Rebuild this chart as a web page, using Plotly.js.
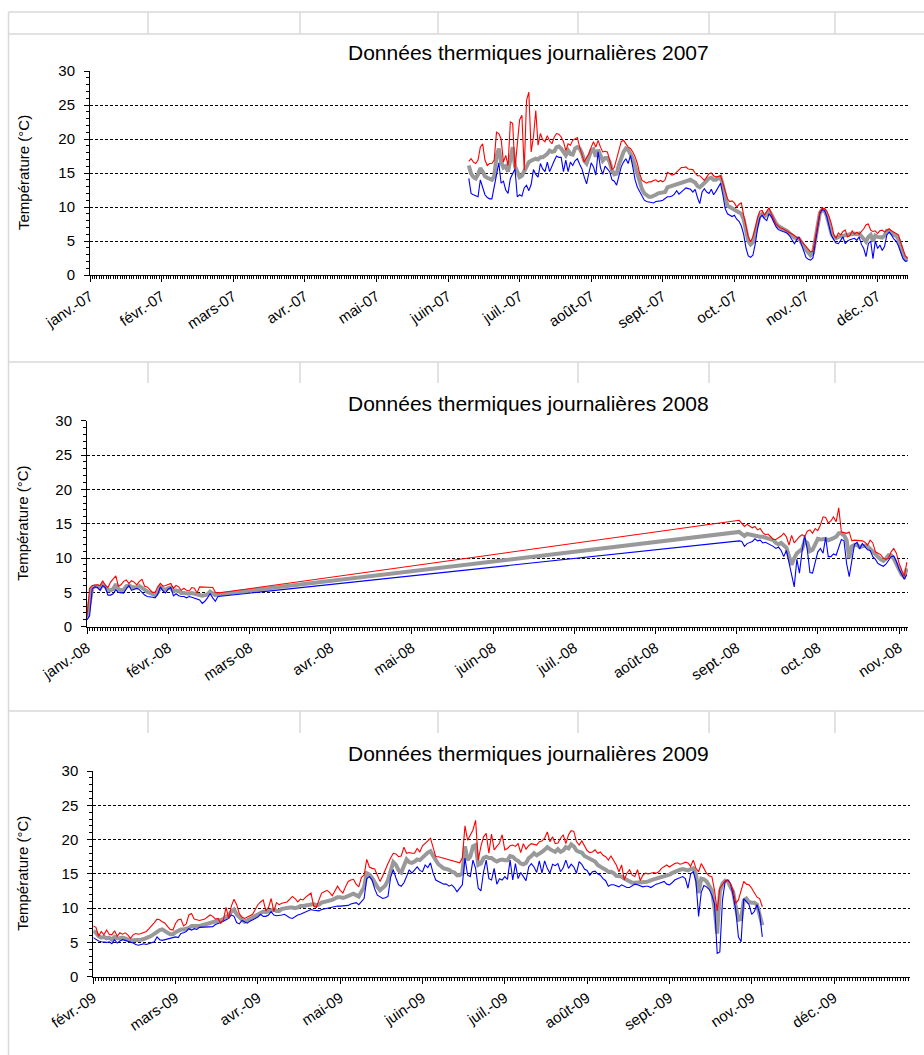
<!DOCTYPE html>
<html>
<head>
<meta charset="utf-8">
<script src="https://cdn.plot.ly/plotly-3.0.1.min.js"></script>
<style>
  html, body { margin: 0; padding: 0; background: #ffffff; }
  #chart { width: 924px; height: 1055px; }
</style>
</head>
<body>
<div id="chart"></div>
<script>
// ---------- DATA ----------
const months2007 = ['janv.-07','févr.-07','mars-07','avr.-07','mai-07','juin-07','juil.-07','août-07','sept.-07','oct.-07','nov.-07','déc.-07'];
const months2008 = ['janv.-08','févr.-08','mars-08','avr.-08','mai-08','juin-08','juil.-08','août-08','sept.-08','oct.-08','nov.-08'];
const months2009 = ['févr.-09','mars-09','avr.-09','mai-09','juin-09','juil.-09','août-09','sept.-09','nov.-09','déc.-09'];
const daysPerLabel = 31;

// 2007 : daily values, first value at day index 164 of the axis
const start2007 = 164;
const max2007 = [16.7,17.1,16.6,16.4,16.9,18.8,19.3,16.9,16.1,16.4,
16.4,16.9,21.0,20.8,20.0,16.6,17.6,16.1,22.5,22.3,
15.6,18.8,22.8,23.5,15.4,25.7,26.9,18.1,20.3,24.2,
19.1,20.8,19.9,19.6,20.5,19.7,19.3,20.3,20.8,20.7,
20.3,19.6,18.3,19.3,19.1,19.8,20.0,20.2,18.8,17.6,
16.6,17.3,17.8,18.8,19.6,18.8,19.8,18.8,18.1,18.2,
18.1,16.9,15.5,15.8,17.1,18.6,19.6,19.8,19.3,18.8,
18.6,18.1,17.4,16.4,14.9,13.9,13.7,13.5,13.7,13.7,
13.9,14.0,13.7,13.9,13.7,14.0,15.1,14.9,14.7,14.8,
15.1,15.4,15.8,15.8,15.9,15.6,15.5,15.5,15.0,14.6,
14.6,14.2,13.9,14.4,14.9,15.0,14.6,14.4,14.5,14.6,
13.5,12.3,11.2,10.8,10.9,10.6,10.0,10.4,10.6,8.8,
7.0,5.6,4.9,5.6,6.9,8.4,9.4,9.5,8.8,9.3,
9.9,9.0,8.1,7.5,7.2,6.9,6.8,6.6,6.5,6.3,
6.0,5.8,5.5,5.4,5.0,4.6,4.2,3.8,3.4,3.5,
5.5,7.8,9.3,9.8,9.8,9.4,8.6,7.5,6.0,5.4,
6.2,5.9,6.4,6.6,5.6,5.8,6.5,6.0,6.3,6.0,
6.4,6.8,7.4,7.5,6.6,6.4,6.5,6.1,6.5,6.6,
6.3,6.5,6.8,6.5,6.3,6.2,5.9,4.8,3.6,2.8,2.5];
const min2007 = [14.2,12.0,11.8,11.7,11.5,14.0,13.0,11.8,11.4,11.2,
11.2,12.9,14.7,16.5,13.5,13.8,12.5,12.0,14.2,15.0,
15.6,11.5,11.8,11.6,12.8,13.2,12.4,13.3,15.5,14.8,
14.4,16.4,15.6,15.2,16.6,15.2,16.1,16.8,17.5,17.3,
17.3,15.2,16.9,15.2,16.6,16.1,16.8,17.1,16.3,15.6,
14.4,13.4,15.0,16.5,15.9,14.7,18.1,15.8,14.8,16.0,
15.6,15.2,14.0,13.8,13.2,14.8,15.9,16.6,17.1,16.4,
17.6,15.9,14.0,12.9,12.3,11.6,11.0,10.8,10.7,10.6,
10.6,10.8,10.8,10.9,11.0,11.2,11.5,11.5,11.6,11.9,
12.4,11.9,12.2,12.5,12.8,12.7,12.6,12.2,12.6,11.4,
10.5,12.2,12.7,12.2,12.0,12.6,11.8,12.3,12.9,13.5,
11.8,9.8,9.0,8.8,8.6,8.8,8.2,7.9,7.2,6.0,
4.0,2.8,2.6,2.9,4.5,6.8,8.4,8.8,8.3,8.0,
9.0,8.6,7.9,7.1,6.7,6.5,6.4,6.3,6.1,5.7,
5.1,4.6,5.2,5.6,4.5,3.4,2.6,2.3,2.2,2.5,
4.7,7.4,9.0,9.6,9.5,8.6,7.2,5.8,5.2,4.7,
4.6,5.2,5.6,4.6,5.0,5.2,5.3,5.4,5.1,5.6,
4.5,3.9,2.7,4.6,5.0,2.4,5.0,3.9,4.4,3.6,
4.2,5.9,6.3,5.9,5.3,5.0,4.3,3.4,2.4,2.0,2.1];
const mean2007 = [16.1,14.9,14.4,14.2,14.8,15.7,15.2,14.5,14.3,14.1,
14.0,14.5,17.4,18.6,16.6,15.8,16.0,15.2,17.3,18.8,
16.0,15.0,14.4,14.6,15.3,16.0,16.6,16.8,17.0,17.1,
17.0,17.3,17.3,17.6,17.8,18.3,18.1,18.2,18.8,18.9,
18.6,18.1,17.6,18.3,17.8,17.7,18.6,18.8,18.6,17.9,
16.8,16.4,17.5,18.3,18.5,17.4,18.4,17.6,16.8,17.2,
17.2,16.6,15.4,14.8,14.9,16.2,17.4,18.1,18.6,18.4,
17.8,17.1,16.0,14.9,13.6,12.6,12.0,11.7,11.5,11.5,
11.6,11.8,12.0,12.1,12.1,12.2,12.9,13.0,13.2,13.3,
13.4,13.4,13.5,13.7,13.8,13.9,14.0,13.8,13.6,13.1,
12.9,13.2,13.5,13.9,14.2,14.3,14.0,14.0,14.2,14.4,
13.2,11.5,10.2,10.0,9.8,9.6,9.3,9.2,9.0,8.2,
6.4,5.0,4.5,4.8,6.2,7.6,8.8,9.0,8.6,8.9,
9.4,8.9,8.1,7.6,7.2,7.0,6.8,6.7,6.4,6.1,
5.8,5.5,5.4,5.3,4.8,4.2,3.7,3.3,2.9,3.2,
5.2,7.6,9.1,9.6,9.5,8.7,7.3,6.1,5.6,5.4,
5.6,5.7,5.8,5.9,5.9,6.0,6.0,6.1,6.0,6.1,
5.7,5.2,4.9,5.6,5.9,5.0,5.8,5.6,5.6,5.5,
5.8,6.5,6.5,6.2,5.9,5.8,5.3,4.2,3.0,2.4,2.2];

// 2008 : two recorded periods (winter and autumn)
const start2008a = 0;
const max2008a = [1.5,5.6,6.0,6.1,6.1,6.0,6.7,6.0,5.7,6.5,
7.0,7.4,5.9,6.1,6.6,6.8,6.3,6.7,6.5,6.1,
6.6,6.9,5.9,5.8,5.4,5.0,5.0,5.8,6.3,5.9,
6.0,6.1,6.3,5.6,6.0,5.8,5.3,5.6,5.3,5.2,
5.7,5.6,4.9,5.8,5.8,5.8,5.8,5.7,5.7,5.0,4.9];
const min2008a = [1.0,1.6,5.5,5.8,5.7,5.3,6.0,5.7,4.6,4.6,
4.8,5.4,5.0,4.9,4.9,5.5,6.0,5.3,5.4,5.6,
5.4,5.0,4.6,4.4,4.4,4.3,4.2,4.7,5.8,5.2,
4.9,5.5,5.7,4.5,4.8,4.5,4.4,4.4,4.2,4.4,
4.3,4.2,4.1,3.9,3.4,3.7,4.2,4.8,4.2,3.7,4.4];
const mean2008a = [1.3,3.5,5.6,5.9,5.9,5.6,6.2,5.8,5.3,5.3,
5.5,6.2,5.5,5.3,5.4,5.9,6.0,5.8,5.8,5.7,
5.9,5.7,5.4,5.1,4.9,4.7,4.6,5.0,5.8,5.5,
5.4,5.6,5.7,5.2,5.3,5.2,4.9,4.9,4.8,4.8,
4.9,4.8,4.6,4.6,4.5,4.6,4.7,5.1,4.9,4.6,4.7];
const start2008b = 249;
const max2008b = [15.5,15.0,14.6,14.9,14.7,14.4,14.6,14.1,14.3,13.7,
13.4,13.5,13.1,12.7,12.7,12.9,13.2,13.6,13.1,11.9,
13.3,12.2,12.7,13.1,13.4,13.1,13.9,14.1,13.6,14.3,
14.0,14.8,16.0,15.9,15.1,15.4,16.0,15.3,17.3,13.8,
13.7,13.6,13.8,12.5,12.6,12.6,12.5,12.5,12.3,11.9,
12.6,12.2,10.9,10.7,10.5,10.0,9.8,10.0,10.9,11.4,
10.7,9.3,8.3,7.3,9.4];
const min2008b = [12.5,12.4,11.7,12.1,12.3,12.4,12.8,12.5,12.6,12.2,
12.3,12.1,12.0,11.7,11.4,11.6,11.1,10.2,11.1,9.3,
7.3,5.8,9.8,7.8,11.0,13.3,11.2,7.9,7.8,9.5,
10.9,11.4,10.7,13.0,10.2,10.2,10.6,10.4,11.6,12.7,
12.5,9.2,7.3,10.0,12.0,12.3,11.3,12.1,11.6,11.2,
11.1,10.2,9.8,9.2,9.0,8.8,9.1,9.6,10.2,10.3,
9.5,8.4,7.7,6.9,7.6];
const mean2008b = [13.8,13.5,13.2,13.5,13.4,13.3,13.3,13.1,13.1,13.1,
13.0,12.9,12.8,12.6,12.2,12.0,12.2,11.8,11.5,10.3,
9.0,10.0,10.7,11.0,11.3,12.5,12.2,11.0,11.2,12.0,
12.8,12.7,12.7,12.8,12.6,12.7,12.9,13.1,13.6,13.6,
13.3,12.6,10.0,11.7,11.9,11.9,11.6,11.7,11.8,11.7,
11.3,11.0,10.6,10.3,9.8,9.6,9.9,10.4,10.4,9.9,
9.2,8.3,7.6,7.3,8.5];

// 2009 : daily values from the first day of the axis
const start2009 = 0;
const max2009 = [7.4,7.2,5.9,6.6,6.1,6.8,6.2,6.1,6.7,5.9,
6.4,6.2,6.4,6.1,5.6,6.1,6.3,6.2,6.3,6.4,
6.6,7.0,7.4,7.9,8.4,8.3,8.0,7.8,7.3,6.9,
6.8,7.8,8.3,8.4,7.4,7.7,9.0,9.2,8.4,8.3,
8.2,8.3,8.4,8.7,9.0,8.8,8.4,8.5,7.8,8.3,
10.1,8.5,10.3,11.3,10.5,9.2,8.7,8.5,8.7,8.8,
9.1,9.8,10.5,10.9,11.2,9.6,10.1,11.4,9.5,10.8,
10.5,10.7,10.8,10.9,11.3,11.7,11.4,10.9,11.3,11.2,
11.6,11.9,12.2,10.3,10.1,11.2,12.2,12.4,12.6,12.3,
11.8,12.5,13.2,12.6,12.2,13.1,13.9,14.1,14.2,13.5,
13.1,14.5,14.8,17.1,16.0,15.8,15.7,14.8,13.9,14.7,
15.7,16.5,17.3,18.0,17.9,17.5,17.6,18.9,18.0,18.1,
18.0,18.0,18.7,18.2,19.1,19.4,19.8,20.2,18.7,17.5,
17.5,17.4,17.3,17.2,17.0,16.9,16.8,16.8,16.6,17.3,
22.0,19.9,20.7,21.4,22.8,17.0,19.0,20.4,20.9,18.0,
20.8,18.5,19.0,19.5,20.7,18.5,18.7,19.1,19.2,19.0,
19.4,18.1,19.4,18.6,19.1,19.4,19.3,19.2,19.7,19.8,
20.2,21.1,19.7,20.4,19.4,19.5,20.2,20.7,19.4,20.7,
21.3,21.2,19.7,19.2,19.8,19.0,18.4,18.1,18.2,18.5,
18.0,18.2,17.7,17.5,17.0,17.6,17.0,16.3,15.3,16.3,
14.1,15.1,15.6,14.8,14.6,15.6,14.0,14.8,15.1,15.0,
15.1,15.2,15.1,15.3,15.8,16.0,16.3,16.0,16.3,16.5,
16.6,16.4,16.5,16.7,16.6,16.1,17.0,15.8,15.3,16.5,
15.8,15.1,14.7,14.6,12.6,9.6,12.9,13.5,14.0,14.0,
13.6,12.6,10.7,11.2,12.6,13.9,13.5,13.4,12.9,12.2,
11.6,11.4,10.2];
const min2009 = [5.7,5.4,5.2,5.1,5.0,5.0,5.1,4.8,5.4,4.9,
5.2,5.4,5.3,5.2,5.1,4.9,4.7,4.6,4.7,4.8,
4.7,4.8,4.9,5.1,5.8,5.4,5.3,5.4,5.6,5.6,
5.8,5.8,5.7,6.3,6.4,6.6,7.0,6.8,7.0,6.9,
7.2,7.2,7.2,7.3,7.3,7.3,7.6,7.7,7.9,8.1,
8.3,8.5,9.0,8.8,7.9,7.7,8.2,8.0,7.8,8.1,
8.3,8.5,8.7,9.1,8.8,8.8,9.0,9.5,9.0,8.9,
8.9,9.0,9.1,8.8,8.6,8.5,8.8,9.0,9.1,9.3,
9.5,9.6,9.8,9.7,9.7,9.6,9.8,9.9,9.9,10.0,
10.1,10.2,10.3,10.3,10.3,10.3,10.4,10.6,10.7,10.8,
10.5,11.0,11.4,14.3,14.6,14.1,12.8,11.9,11.6,11.4,
11.5,11.7,14.5,15.6,14.4,13.4,13.2,13.7,14.6,15.6,
15.1,15.5,16.0,15.5,15.3,16.3,15.9,16.6,15.1,14.1,
13.9,13.7,13.5,13.5,13.2,13.4,13.0,12.4,12.9,13.4,
17.3,14.8,14.6,17.0,15.8,12.9,12.5,15.3,17.0,14.3,
14.1,15.8,13.5,14.3,14.1,14.6,14.2,17.0,14.1,16.5,
14.3,15.2,14.6,14.0,16.0,16.5,16.0,15.2,16.9,15.1,
16.9,15.8,15.1,16.4,16.2,16.5,15.3,15.9,17.0,15.8,
16.4,16.0,15.1,16.8,16.4,15.7,15.5,14.8,15.3,15.4,
15.0,14.8,14.3,14.0,13.2,13.4,13.4,13.2,13.1,13.4,
13.2,13.0,13.0,13.2,13.5,13.4,13.2,13.1,13.2,13.2,
13.0,13.3,13.5,13.6,13.7,13.9,13.5,13.4,13.7,14.1,
14.3,14.5,14.6,14.3,12.9,15.0,15.3,13.9,8.8,12.3,
13.3,13.1,12.7,11.9,10.6,3.4,3.6,11.2,13.9,14.1,
13.6,11.9,9.7,5.8,5.1,11.4,10.9,10.5,9.1,9.5,
10.5,9.2,5.8];
const mean2009 = [6.7,6.4,5.9,5.7,5.8,5.6,5.7,5.4,5.8,5.6,
5.6,5.7,5.6,5.4,5.3,5.3,5.3,5.4,5.4,5.5,
5.6,5.8,6.0,6.3,6.5,6.8,6.9,6.6,6.4,6.2,
6.2,6.5,6.7,6.9,6.9,7.0,7.1,7.4,7.4,7.3,
7.4,7.5,7.6,7.7,7.8,8.0,8.1,8.1,8.3,8.4,
8.7,9.0,9.5,9.8,9.1,8.6,8.3,8.0,8.2,8.5,
8.7,8.8,9.1,9.3,9.5,9.4,9.5,9.7,9.8,9.6,
9.6,9.9,10.0,10.1,10.1,10.1,10.0,10.1,10.3,10.3,
10.4,10.5,10.5,10.6,10.4,10.5,10.8,10.9,10.9,11.0,
11.2,11.4,11.6,11.6,11.5,11.6,11.8,12.0,12.1,11.9,
11.7,12.4,13.1,15.1,14.9,14.4,13.6,13.1,12.6,12.9,
13.3,14.1,15.2,16.7,16.3,15.5,15.2,16.2,17.1,16.7,
16.6,16.8,17.1,17.0,17.4,17.7,18.1,18.3,17.5,17.0,
16.4,16.1,15.8,15.7,15.6,15.3,15.2,14.8,14.8,15.1,
19.0,17.0,17.5,19.0,19.2,16.3,16.5,17.3,17.5,17.3,
17.3,17.0,16.8,17.0,17.1,17.0,17.0,17.6,17.5,17.1,
16.9,16.5,16.4,16.6,17.3,17.6,18.0,17.7,17.9,18.2,
18.5,18.9,18.6,18.4,18.2,18.6,18.2,18.4,18.9,18.7,
19.3,19.0,18.4,18.2,18.1,17.6,17.4,17.2,17.0,16.8,
16.3,16.0,15.8,15.6,15.3,15.3,15.1,14.7,14.6,14.6,
14.3,14.1,13.9,13.7,13.7,13.7,13.7,13.8,13.8,13.9,
14.1,14.2,14.3,14.4,14.5,14.6,14.8,14.9,15.1,15.3,
15.5,15.6,15.7,15.6,15.5,15.7,15.8,15.0,12.2,14.3,
14.2,13.9,13.3,12.6,10.0,6.3,12.4,13.6,14.0,13.9,
13.1,12.4,10.2,8.3,8.4,11.1,11.4,10.9,10.8,10.8,
10.5,9.2,7.5];

// ---------- BUILD ----------
const W = 924, H = 1055;
const fx = x => x / W;
const fy = y => 1 - y / H;
const seq = (start, n) => Array.from({length: n}, (_, i) => start + i);

const FONT = 'Liberation Sans, Arial, Helvetica, sans-serif';
const RED = '#ff0000', BLUE = '#0000ff', GREY = '#999999';

function seriesTraces(xs, ymax, ymin, ymean, ax) {
  const xa = 'x' + ax, ya = 'y' + ax;
  return [
    {x: xs, y: ymean, type: 'scatter', mode: 'lines', xaxis: xa, yaxis: ya, line: {color: GREY, width: 4}, hoverinfo: 'skip'},
    {x: xs, y: ymin,  type: 'scatter', mode: 'lines', xaxis: xa, yaxis: ya, line: {color: BLUE, width: 1.1}, hoverinfo: 'skip'},
    {x: xs, y: ymax,  type: 'scatter', mode: 'lines', xaxis: xa, yaxis: ya, line: {color: RED,  width: 1.1}, hoverinfo: 'skip'}
  ];
}

const x2007 = seq(start2007, max2007.length);
const x2008 = seq(start2008a, max2008a.length).concat(seq(start2008b, max2008b.length));
const x2009 = seq(start2009, max2009.length);

const traces = []
  .concat(seriesTraces(x2007, max2007, min2007, mean2007, ''))
  .concat(seriesTraces(x2008, max2008a.concat(max2008b), min2008a.concat(min2008b), mean2008a.concat(mean2008b), '2'))
  .concat(seriesTraces(x2009, max2009, min2009, mean2009, '3'));

const charts = [
  {key: '',  left: 90,   right: 908,   top: 71,    bottom: 275,   pxPerLabel: 71.6, labels: months2007, title: 'Données thermiques journalières 2007', titleY: 53},
  {key: '2', left: 87,   right: 908,   top: 420.7, bottom: 626.7, pxPerLabel: 81.2, labels: months2008, title: 'Données thermiques journalières 2008', titleY: 403},
  {key: '3', left: 93.3, right: 909.5, top: 771,   bottom: 976.7, pxPerLabel: 82.3, labels: months2009, title: 'Données thermiques journalières 2009', titleY: 753}
];

const layout = {
  width: W, height: H,
  margin: {l: 0, r: 0, t: 0, b: 0, pad: 0},
  paper_bgcolor: '#ffffff',
  plot_bgcolor: 'rgba(0,0,0,0)',
  showlegend: false,
  font: {family: FONT, color: '#000000', size: 15},
  annotations: [],
  shapes: []
};

charts.forEach(c => {
  const pxPerDay = c.pxPerLabel / daysPerLabel;
  const xr = (c.right - c.left) / pxPerDay;
  layout['xaxis' + c.key] = {
    domain: [fx(c.left), fx(c.right)],
    range: [0, xr],
    anchor: 'y' + c.key,
    tickmode: 'array',
    tickvals: c.labels.map((_, i) => i * daysPerLabel),
    ticktext: c.labels,
    tickangle: -34,
    ticks: 'outside', ticklen: 6, tickwidth: 1, tickcolor: '#000',
    tickfont: {family: FONT, size: 15, color: '#000'},
    showline: true, linecolor: '#000', linewidth: 1,
    showgrid: false, zeroline: false,
    minor: {tickmode: 'linear', tick0: 0, dtick: 1, ticks: 'outside', ticklen: 3, tickwidth: 1, tickcolor: '#000', showgrid: false},
    fixedrange: true
  };
  layout['yaxis' + c.key] = {
    domain: [fy(c.bottom), fy(c.top)],
    range: [0, 30],
    anchor: 'x' + c.key,
    tickmode: 'linear', tick0: 0, dtick: 5,
    ticks: 'outside', ticklen: 5, tickwidth: 1, tickcolor: '#000',
    ticklabelstandoff: 6,
    tickfont: {family: FONT, size: 15, color: '#000'},
    showline: true, linecolor: '#000', linewidth: 1,
    showgrid: true, gridcolor: '#000', gridwidth: 1, griddash: '3px,2px',
    zeroline: false,
    minor: {tickmode: 'linear', tick0: 0, dtick: 1, ticks: 'outside', ticklen: 3, tickwidth: 1, tickcolor: '#000', showgrid: false},
    fixedrange: true
  };
  layout.annotations.push({
    text: c.title, xref: 'paper', yref: 'paper',
    x: fx(528), y: fy(c.titleY), xanchor: 'center', yanchor: 'middle',
    showarrow: false, font: {family: FONT, size: 21, color: '#000'}
  });
  layout.annotations.push({
    text: 'Température (°C)', xref: 'paper', yref: 'paper',
    x: fx(23), y: fy((c.top + c.bottom) / 2), xanchor: 'center', yanchor: 'middle',
    textangle: -90, showarrow: false, font: {family: FONT, size: 15, color: '#000'}
  });
});

// spreadsheet cell grid visible around the charts
const GRID = '#d9d9d9';
function hline(y, x0, x1) { layout.shapes.push({type: 'line', xref: 'paper', yref: 'paper', x0: fx(x0), x1: fx(x1), y0: fy(y), y1: fy(y), line: {color: GRID, width: 1.5}, layer: 'below'}); }
function vline(x, y0, y1) { layout.shapes.push({type: 'line', xref: 'paper', yref: 'paper', x0: fx(x), x1: fx(x), y0: fy(y0), y1: fy(y1), line: {color: GRID, width: 1.5}, layer: 'below'}); }
const cols = [148, 300, 438, 578, 709, 835];
vline(8.5, 12, H);
hline(12, 8.5, W); hline(34, 8.5, W);
cols.forEach(x => vline(x, 12, 34));
hline(362, 8.5, W);
cols.forEach(x => vline(x, 362, 383));
hline(711, 8.5, W);
cols.forEach(x => vline(x, 711, 733));

Plotly.newPlot('chart', traces, layout, {staticPlot: true, displayModeBar: false});
</script>
</body>
</html>
